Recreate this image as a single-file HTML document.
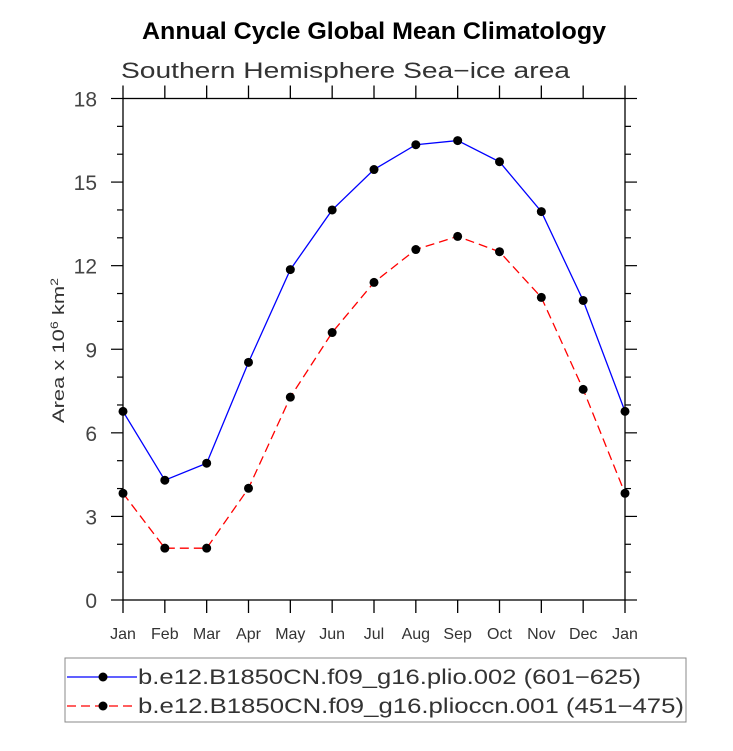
<!DOCTYPE html>
<html><head><meta charset="utf-8"><style>
body{margin:0;background:#fff;}
text{font-family:"Liberation Sans",sans-serif;}
</style></head><body>
<svg id="chart" width="733" height="746" xmlns="http://www.w3.org/2000/svg">
<rect width="733" height="746" fill="#fff"/>
<text x="142" y="39" textLength="464" lengthAdjust="spacingAndGlyphs" font-size="24" font-weight="bold">Annual Cycle Global Mean Climatology</text>
<text x="121" y="78" textLength="449" lengthAdjust="spacingAndGlyphs" font-size="22" fill="#333">Southern Hemisphere Sea−ice area</text>
<text transform="translate(64,423) rotate(-90)" font-size="17" fill="#333" textLength="145" lengthAdjust="spacingAndGlyphs">Area x 10<tspan dy="-6" font-size="11">6</tspan><tspan dy="6"> km</tspan><tspan dy="-6" font-size="11">2</tspan></text>
<g id="axes"></g>
<g id="series"></g>
<rect x="65" y="658" width="621" height="64" fill="none" stroke="#888" stroke-width="1"/>
<line x1="67" y1="677" x2="137" y2="677" stroke="#00f" stroke-width="1.3"/>
<circle cx="103" cy="677" r="4.5" fill="#000"/>
<text x="138" y="684" font-size="21" fill="#333" textLength="503" lengthAdjust="spacingAndGlyphs">b.e12.B1850CN.f09_g16.plio.002 (601−625)</text>
<line x1="67" y1="706" x2="137" y2="706" stroke="#f00" stroke-width="1.3" stroke-dasharray="9,5"/>
<circle cx="103" cy="706" r="4.5" fill="#000"/>
<text x="138" y="713" font-size="21" fill="#333" textLength="546" lengthAdjust="spacingAndGlyphs">b.e12.B1850CN.f09_g16.plioccn.001 (451−475)</text>
</svg>
<script>
const months=["Jan","Feb","Mar","Apr","May","Jun","Jul","Aug","Sep","Oct","Nov","Dec","Jan"];
const plioValues=[6.77,4.3,4.91,8.53,11.86,14.0,15.45,16.34,16.49,15.73,13.94,10.75,6.77];
const plioccnValues=[3.83,1.86,1.86,4.01,7.28,9.6,11.4,12.58,13.05,12.5,10.86,7.56,3.83];
const yTicks=[0,3,6,9,12,15,18];
const NS="http://www.w3.org/2000/svg";
const L=123,R=625,T=98.5,B=600,yMax=18;
function xs(i){return L+(R-L)*i/(months.length-1);}
function ys(v){return B-(B-T)*v/yMax;}
function mk(tag,attrs,parent){const e=document.createElementNS(NS,tag);for(const k in attrs)e.setAttribute(k,attrs[k]);parent.appendChild(e);return e;}
const ax=document.getElementById('axes');
let f=mk('rect',{x:L,y:T,width:R-L,height:B-T,fill:'none',stroke:'#000','stroke-width':1.3},ax);


months.forEach((m,i)=>{
 const x=xs(i);
 let t=mk('line',{x1:x,y1:B,x2:x,y2:B+13,stroke:'#000','stroke-width':1.3},ax);
 
 
 let t2=mk('line',{x1:x,y1:T,x2:x,y2:T-13,stroke:'#000','stroke-width':1.3},ax);
 
 
 let lb=mk('text',{x:x,y:639,'text-anchor':'middle','font-size':16,fill:'#333'},ax);
 lb.textContent=m;
 
 
});
for(let v=0;v<=yMax;v++){
 const y=ys(v);const major=v%3===0;const len=major?12:6;
 let a=mk('line',{x1:L-len,y1:y,x2:L,y2:y,stroke:'#000','stroke-width':1.2},ax);
 
 
 let b=mk('line',{x1:R,y1:y,x2:R+len,y2:y,stroke:'#000','stroke-width':1.2},ax);
 
 
}
yTicks.forEach(v=>{
 let lb=mk('text',{x:97,y:ys(v)+8,'text-anchor':'end','font-size':21,fill:'#444'},ax);
 lb.textContent=v;
 
 
});
const sg=document.getElementById('series');
function draw(vals,color,dash,name){
 const pts=vals.map((v,i)=>xs(i)+','+ys(v)).join(' ');
 let pl=mk('polyline',{points:pts,fill:'none',stroke:color,'stroke-width':1.3},sg);
 if(dash)pl.setAttribute('stroke-dasharray',dash);
 
 
 vals.forEach((v,i)=>{
  let c=mk('circle',{cx:xs(i),cy:ys(v),r:4.5,fill:'#000'},sg);
  
  
 });
}
draw(plioValues,'#00f',null,'plio');
draw(plioccnValues,'#f00','9,5','plioccn');
</script>
</body></html>
